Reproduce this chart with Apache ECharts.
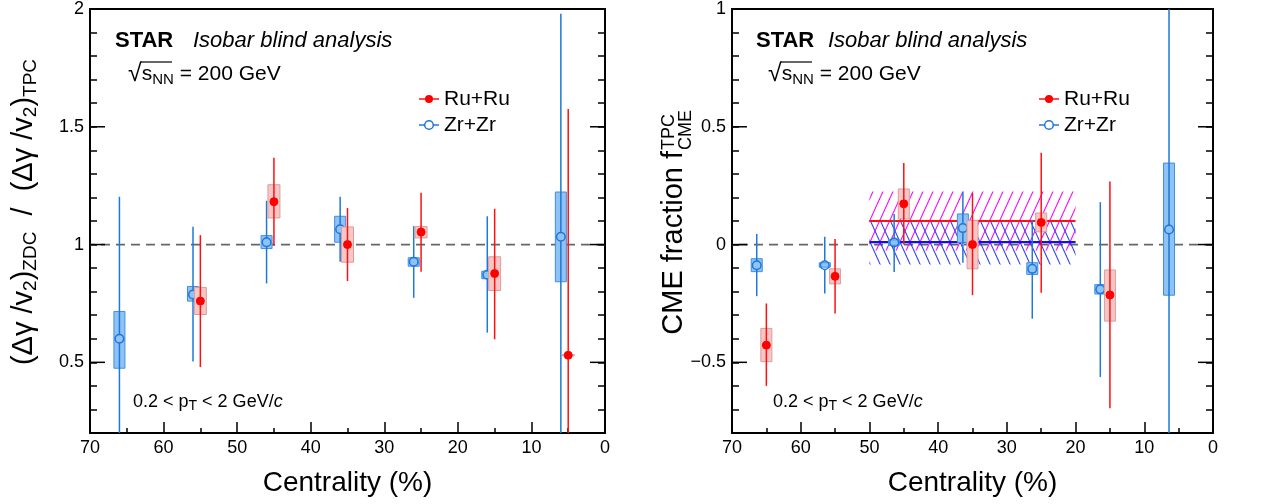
<!DOCTYPE html>
<html><head><meta charset="utf-8">
<script src="https://cdn.jsdelivr.net/npm/echarts@6/dist/echarts.min.js"></script>
<style>html,body{margin:0;padding:0;background:#fff}#c{width:1270px;height:504px}</style>
</head><body><div id="c"></div>
<script>
// ---------- data ----------
const leftYLabels = [0.5, 1, 1.5, 2];
const rightYLabels = [-0.5, 0, 0.5, 1];

const leftZrCent   = [66, 56, 46, 36, 26, 16, 6];
const leftZrVal    = [0.600, 0.788, 1.010, 1.065, 0.927, 0.872, 1.033];
const leftZrStatLo = [0.000, 0.504, 0.835, 0.927, 0.774, 0.626, 0.000];
const leftZrStatHi = [1.203, 1.076, 1.186, 1.203, 1.078, 1.120, 1.980];
const leftZrSysLo  = [0.475, 0.760, 0.983, 1.010, 0.908, 0.855, 0.842];
const leftZrSysHi  = [0.716, 0.822, 1.038, 1.120, 0.944, 0.887, 1.223];

const leftRuCent   = [55, 45, 35, 25, 15, 5];
const leftRuVal    = [0.760, 1.182, 1.000, 1.053, 0.877, 0.530];
const leftRuStatLo = [0.480, 0.995, 0.845, 0.885, 0.598, 0.000];
const leftRuStatHi = [1.040, 1.368, 1.155, 1.220, 1.152, 1.575];
const leftRuSysLo  = [0.703, 1.113, 0.925, 1.028, 0.805, 0.527];
const leftRuSysHi  = [0.818, 1.254, 1.075, 1.077, 0.948, 0.533];

const rightZrCent   = [66.4, 56.5, 46.4, 36.4, 26.3, 16.4, 6.4];
const rightZrVal    = [-0.088, -0.088, 0.009, 0.070, -0.103, -0.190, 0.064];
const rightZrStatLo = [-0.219, -0.208, -0.117, -0.077, -0.315, -0.562, -1.000];
const rightZrStatHi = [0.045, 0.033, 0.130, 0.224, 0.105, 0.180, 1.200];
const rightZrSysLo  = [-0.115, -0.096, -0.003, 0.009, -0.127, -0.210, -0.215];
const rightZrSysHi  = [-0.060, -0.077, 0.020, 0.130, -0.077, -0.170, 0.346];

const rightRuCent   = [65, 55, 45, 35, 25, 15];
const rightRuVal    = [-0.427, -0.135, 0.173, 0.000, 0.094, -0.214];
const rightRuStatLo = [-0.600, -0.293, 0.000, -0.215, -0.205, -0.695];
const rightRuStatHi = [-0.250, 0.024, 0.346, 0.218, 0.390, 0.268];
const rightRuSysLo  = [-0.497, -0.167, 0.109, -0.103, 0.054, -0.325];
const rightRuSysHi  = [-0.356, -0.103, 0.236, 0.103, 0.134, -0.108];

const fitRange = [50, 20];
const ruFit = 0.100, ruFitErr = 0.125;
const zrFit = 0.010, zrFitErr = 0.095;
const leftRef = 1, rightRef = 0;

// ---------- helpers ----------
const FONT = '"Liberation Sans", Arial, Helvetica, sans-serif';
function rows(c, v, sl, sh, yl, yh) { return c.map((x, i) => [x, v[i], sl[i], sh[i], yl[i], yh[i]]); }

const ZR = {line: '#1f77d8', boxFill: '#8fc3f5', boxStroke: '#3d8fe6', filled: false, r: 4.3};
const RU = {line: '#ff1010', boxFill: '#f8c6c4', boxStroke: '#dc9c9c', filled: true, r: 4};

function makeRender(st, bw) {
  return function (params, api) {
    const x = api.value(0);
    const p = api.coord([x, api.value(1)]);
    const sLo = api.coord([x, api.value(2)]);
    const sHi = api.coord([x, api.value(3)]);
    const bLo = api.coord([x, api.value(4)]);
    const bHi = api.coord([x, api.value(5)]);
    const ch = [];
    ch.push({type: 'rect', shape: {x: p[0] - bw / 2, y: bHi[1], width: bw, height: Math.max(bLo[1] - bHi[1], 1)},
      style: {fill: st.boxFill, stroke: st.boxStroke, lineWidth: 1}});
    const r = st.r;
    if (sHi[1] < p[1] - r) ch.push({type: 'line', shape: {x1: p[0], y1: sHi[1], x2: p[0], y2: p[1] - r}, style: {stroke: st.line, lineWidth: 1.5}});
    if (sLo[1] > p[1] + r) ch.push({type: 'line', shape: {x1: p[0], y1: p[1] + r, x2: p[0], y2: sLo[1]}, style: {stroke: st.line, lineWidth: 1.5}});
    ch.push({type: 'circle', shape: {cx: p[0], cy: p[1], r: r},
      style: st.filled ? {fill: '#ff0000', stroke: '#ff0000', lineWidth: 1} : {fill: 'none', stroke: st.line, lineWidth: 1.5}});
    return {type: 'group', children: ch};
  };
}

// long (major) y ticks on both frame sides
function majorTickRender(params, api) {
  const a = api.coord([70, api.value(0)]);
  const b = api.coord([0, api.value(0)]);
  return {type: 'group', children: [
    {type: 'line', shape: {x1: a[0], y1: a[1], x2: a[0] + 15, y2: a[1]}, style: {stroke: '#000', lineWidth: 1.5}},
    {type: 'line', shape: {x1: b[0] - 15, y1: b[1], x2: b[0], y2: b[1]}, style: {stroke: '#000', lineWidth: 1.5}}
  ]};
}

function hatch(color, dir) {
  const w = 10, h = 22;
  const c = document.createElement('canvas'); c.width = w; c.height = h;
  const g = c.getContext('2d'); g.strokeStyle = color; g.lineWidth = 1.1;
  for (const off of [-w, 0, w]) {
    g.beginPath();
    if (dir > 0) { g.moveTo(off, h); g.lineTo(off + w, 0); } else { g.moveTo(off, 0); g.lineTo(off + w, h); }
    g.stroke();
  }
  return c;
}
const magentaHatch = hatch('#ff00ff', 1);
const blueHatch = hatch('#2a40ee', -1);

function bandRender(fill) {
  return function (params, api) {
    const a = api.coord([api.value(0), api.value(3)]);
    const b = api.coord([api.value(1), api.value(2)]);
    return {type: 'rect', shape: {x: Math.min(a[0], b[0]), y: a[1], width: Math.abs(b[0] - a[0]), height: b[1] - a[1]},
      style: {fill: {image: fill, repeat: 'repeat'}, stroke: null}};
  };
}

// ---------- axes ----------
function xAx(gi) {
  return {gridIndex: gi, type: 'value', min: 0, max: 70, interval: 10, inverse: true,
    axisLine: {show: true, onZero: false, lineStyle: {color: '#000', width: 1.8}},
    axisTick: {show: true, inside: true, length: 11, lineStyle: {color: '#000', width: 1.5}},
    minorTick: {show: true, splitNumber: 2, length: 5, lineStyle: {color: '#000', width: 1.5}},
    splitLine: {show: false}, minorSplitLine: {show: false},
    axisLabel: {fontSize: 18, color: '#000', margin: 6, fontFamily: FONT},
    name: 'Centrality (%)', nameLocation: 'middle', nameGap: 36,
    nameTextStyle: {fontSize: 28, color: '#000', fontFamily: FONT}};
}
function yAxPair(gi, min, max, majors) {
  const base = {gridIndex: gi, type: 'value', min: min, max: max, interval: 0.1, splitLine: {show: false}};
  const line = {show: true, onZero: false, lineStyle: {color: '#000', width: 1.8}};
  const tick = {show: true, inside: true, length: 7, lineStyle: {color: '#000', width: 1.5}};
  const fmt = v => String(+(+v).toFixed(2)).replace('-', '\u2212');
  return [
    Object.assign({}, base, {position: 'left', axisLine: line, axisTick: tick,
      axisLabel: {show: true, customValues: majors, formatter: fmt, fontSize: 18, color: '#000', margin: 6, fontFamily: FONT}}),
    Object.assign({}, base, {position: 'right', axisLine: line, axisTick: tick, axisLabel: {show: false}})
  ];
}

const yAxes = yAxPair(0, 0.2, 2, leftYLabels).concat(yAxPair(1, -0.8, 1, rightYLabels));

function pointSeries(xi, yi, data, st, bw) {
  return {type: 'custom', xAxisIndex: xi, yAxisIndex: yi, clip: true, data: data,
    encode: {x: 0, y: 1}, renderItem: makeRender(st, bw), silent: true, z: 5};
}
function refLine(xi, yi, v) {
  return {type: 'line', xAxisIndex: xi, yAxisIndex: yi, data: [[0, v], [70, v]], symbol: 'none', silent: true, z: 1,
    lineStyle: {color: '#666', width: 1.8, type: [9, 6]}};
}

const series = [
  {type: 'custom', xAxisIndex: 0, yAxisIndex: 0, clip: false, silent: true, z: 6, data: leftYLabels.map(v => [v]), renderItem: majorTickRender},
  {type: 'custom', xAxisIndex: 1, yAxisIndex: 2, clip: false, silent: true, z: 6, data: rightYLabels.map(v => [v]), renderItem: majorTickRender},
  refLine(0, 0, leftRef),
  refLine(1, 2, rightRef),
  {type: 'custom', xAxisIndex: 1, yAxisIndex: 2, clip: true, z: 2, silent: true,
    data: [[fitRange[0], fitRange[1], ruFit - ruFitErr, ruFit + ruFitErr]], renderItem: bandRender(magentaHatch)},
  {type: 'custom', xAxisIndex: 1, yAxisIndex: 2, clip: true, z: 2, silent: true,
    data: [[fitRange[0], fitRange[1], zrFit - zrFitErr, zrFit + zrFitErr]], renderItem: bandRender(blueHatch)},
  {type: 'line', xAxisIndex: 1, yAxisIndex: 2, data: [[fitRange[0], ruFit], [fitRange[1], ruFit]], symbol: 'none', z: 3, silent: true,
    lineStyle: {color: '#ff1010', width: 2.2}},
  {type: 'line', xAxisIndex: 1, yAxisIndex: 2, data: [[fitRange[0], zrFit], [fitRange[1], zrFit]], symbol: 'none', z: 3, silent: true,
    lineStyle: {color: '#1010ee', width: 2.2}},
  pointSeries(0, 0, rows(leftZrCent, leftZrVal, leftZrStatLo, leftZrStatHi, leftZrSysLo, leftZrSysHi), ZR, 11),
  pointSeries(0, 0, rows(leftRuCent, leftRuVal, leftRuStatLo, leftRuStatHi, leftRuSysLo, leftRuSysHi), RU, 12),
  pointSeries(1, 2, rows(rightZrCent, rightZrVal, rightZrStatLo, rightZrStatHi, rightZrSysLo, rightZrSysHi), ZR, 11),
  pointSeries(1, 2, rows(rightRuCent, rightRuVal, rightRuStatLo, rightRuStatHi, rightRuSysLo, rightRuSysHi), RU, 11)
];

// ---------- text annotations ----------
function panelTexts(o) {
  const els = [];
  els.push({type: 'text', x: o.star, y: 41, style: {text: 'STAR', font: 'bold 22px ' + FONT, fill: '#000', verticalAlign: 'middle'}});
  els.push({type: 'text', x: o.iso, y: 41, style: {text: 'Isobar blind analysis', font: 'italic 22px ' + FONT, fill: '#000', verticalAlign: 'middle'}});
  els.push({type: 'text', x: o.sq, y: 74, style: {text: '{r|\u221A}{m|s}{s|NN}{m| = 200 GeV}', verticalAlign: 'middle', fill: '#000',
    rich: {r: {fontSize: 25, fontFamily: FONT, lineHeight: 26, verticalAlign: 'middle'},
           m: {fontSize: 21, fontFamily: FONT, lineHeight: 26, verticalAlign: 'middle'},
           s: {fontSize: 15, fontFamily: FONT, lineHeight: 10, verticalAlign: 'bottom'}}}});
  els.push({type: 'line', shape: {x1: o.sq + 13, y1: 62, x2: o.sq + 44, y2: 62}, style: {stroke: '#000', lineWidth: 1.2}});
  els.push({type: 'text', x: o.pt, y: 402, style: {text: '{m|0.2 < p}{s|T}{m| < 2 GeV/}{i|c}', verticalAlign: 'middle', fill: '#000',
    rich: {m: {fontSize: 18, fontFamily: FONT, lineHeight: 22, verticalAlign: 'middle'},
           i: {fontSize: 18, fontFamily: FONT, fontStyle: 'italic', lineHeight: 22, verticalAlign: 'middle'},
           s: {fontSize: 14, fontFamily: FONT, lineHeight: 8, verticalAlign: 'bottom'}}}});
  // legend
  els.push({type: 'line', shape: {x1: o.leg - 10, y1: 99, x2: o.leg + 10, y2: 99}, style: {stroke: '#ff1010', lineWidth: 1.5}});
  els.push({type: 'circle', shape: {cx: o.leg, cy: 99, r: 4}, style: {fill: '#ff0000'}});
  els.push({type: 'text', x: o.leg + 15, y: 99, style: {text: 'Ru+Ru', font: '21px ' + FONT, fill: '#000', verticalAlign: 'middle'}});
  els.push({type: 'line', shape: {x1: o.leg - 10, y1: 125, x2: o.leg + 10, y2: 125}, style: {stroke: '#1f77d8', lineWidth: 1.5}});
  els.push({type: 'circle', shape: {cx: o.leg, cy: 125, r: 4.3}, style: {fill: '#fff', stroke: '#1f77d8', lineWidth: 1.5}});
  els.push({type: 'text', x: o.leg + 15, y: 125, style: {text: 'Zr+Zr', font: '21px ' + FONT, fill: '#000', verticalAlign: 'middle'}});
  return els;
}

const graphics = []
  .concat(panelTexts({star: 115, iso: 193, sq: 128, pt: 133, leg: 429}))
  .concat(panelTexts({star: 756, iso: 828, sq: 768, pt: 773, leg: 1049}))
  .concat([
    {type: 'text', x: 24, y: 212, rotation: Math.PI / 2,
      style: {text: '{m|(\u0394\u03B3 /v}{s|2}{m|)}{s|ZDC}{m|  /  (\u0394\u03B3 /v}{s|2}{m|)}{s|TPC}', align: 'center', verticalAlign: 'middle', fill: '#000',
        rich: {m: {fontSize: 29, fontFamily: FONT, lineHeight: 32, verticalAlign: 'middle'},
               s: {fontSize: 19, fontFamily: FONT, lineHeight: 12, verticalAlign: 'bottom'}}}},
    {type: 'group', x: 674, y: 151, rotation: Math.PI / 2, children: [
      {type: 'text', x: 0, y: 0, style: {text: 'CME fraction f', font: '29px ' + FONT, fill: '#000', align: 'right', verticalAlign: 'middle'}},
      {type: 'text', x: 1, y: -5, style: {text: 'TPC', font: '18px ' + FONT, fill: '#000', align: 'left', verticalAlign: 'middle'}},
      {type: 'text', x: 1, y: 12, style: {text: 'CME', font: '18px ' + FONT, fill: '#000', align: 'left', verticalAlign: 'middle'}}
    ]}
  ]);

const chart = echarts.init(document.getElementById('c'), null, {renderer: 'canvas'});
chart.setOption({
  animation: false,
  backgroundColor: '#fff',
  grid: [
    {left: 90, right: 665, top: 8, bottom: 71, show: true, borderColor: '#000', borderWidth: 1.8, containLabel: false},
    {left: 732, right: 57, top: 8, bottom: 71, show: true, borderColor: '#000', borderWidth: 1.8, containLabel: false}
  ],
  xAxis: [xAx(0), xAx(1)],
  yAxis: yAxes,
  series: series,
  graphic: graphics
});
</script></body></html>
